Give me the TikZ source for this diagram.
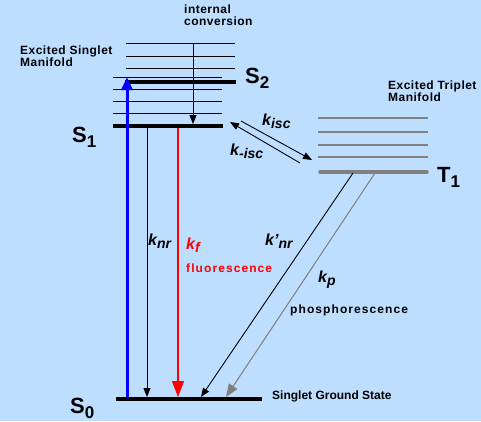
\documentclass[tikz,border=0pt]{standalone}
\usepackage{fontspec}
\setmainfont{Liberation Sans}
\newfontfamily\wideA[LetterSpace=4]{Liberation Sans}
\newfontfamily\wideB[LetterSpace=9]{Liberation Sans}
\usetikzlibrary{arrows.meta}
\definecolor{bg}{RGB}{190,222,255}
\definecolor{lvlgray}{RGB}{128,128,128}
\newcommand{\klab}[2]{{\fontsize{16}{16}\selectfont\bfseries\itshape #1\raisebox{-3.5pt}{\fontsize{14}{14}\selectfont #2}}}
\newcommand{\slab}[2]{{\fontsize{22}{22}\selectfont\bfseries #1\raisebox{-5pt}{\fontsize{17}{17}\selectfont #2}}}
\tikzset{
  small/.style={font=\fontsize{12}{12}\selectfont\bfseries, inner sep=0pt, align=left},
  smallA/.style={font=\wideA\fontsize{12}{12}\selectfont\bfseries, inner sep=0pt, align=left},
  smallB/.style={font=\wideB\fontsize{12}{12}\selectfont\bfseries, inner sep=0pt, align=left},
  lbl/.style={inner sep=0pt, anchor=base west},
  thick level/.style={line width=3.5pt},
  thin level/.style={line width=0.9pt},
  trip level/.style={line width=1.1pt, draw=lvlgray},
  arr/.style={line width=0.9pt, -{Triangle[length=9pt,width=7pt]}},
}
\begin{document}
\begin{tikzpicture}[x=1pt,y=-1pt]
\fill[bg] (0,0) rectangle (481,421);
\useasboundingbox (0,0) rectangle (481,421);

% singlet manifold
\foreach \yy in {43,56,68} \draw[thin level] (126,\yy) -- (235,\yy);
\foreach \yy in {77,89,101,113} \draw[thin level] (113,\yy) -- (222,\yy);
\draw[thick level] (125,82) -- (236,82);
\draw[thick level] (113,126) -- (223,126);
\draw[thick level] (116,399) -- (262,399);

% triplet manifold
\foreach \yy in {118,132,145,157} \draw[trip level] (318,\yy) -- (428,\yy);
\draw[thick level, draw=lvlgray, line cap=round] (320,172) -- (427,172);

% coordinates
\coordinate (bluebot) at (127,397);
\coordinate (bluetop) at (127,77);
\coordinate (nrtop) at (147,128);
\coordinate (nrbot) at (147,397);
\coordinate (ftop) at (178,128);
\coordinate (fbot) at (178,397);
\coordinate (ictop) at (193,43);
\coordinate (icbot) at (193,124);
\coordinate (isca0) at (300,163);
\coordinate (isca1) at (230,122);
\coordinate (iscb0) at (241,121);
\coordinate (iscb1) at (312,160);
\coordinate (tnr0) at (353,173);
\coordinate (tnr1) at (201,397);
\coordinate (tp0) at (375,173);
\coordinate (tp1) at (226,397);

% arrows
\draw[line width=3pt, blue, -{Triangle[length=13pt,width=11pt]}] (bluebot) -- (bluetop);
\draw[arr] (nrtop) -- (nrbot);
\draw[line width=1.1pt, red, -{Triangle[length=16pt,width=12pt]}] (ftop) -- (fbot);
\draw[arr] (ictop) -- (icbot);
\draw[arr] (isca0) -- (isca1);
\draw[arr] (iscb0) -- (iscb1);
\draw[arr] (tnr0) -- (tnr1);
\draw[line width=1pt, lvlgray, -{Triangle[length=13pt,width=10pt]}] (tp0) -- (tp1);

% texts
\node[smallA, anchor=north west] (ic) at (184,5) {internal\\conversion};
\node[smallA, anchor=north west] (esm) at (20,46) {Excited Singlet\\Manifold};
\node[smallA, anchor=north west] (etm) at (388,81) {Excited Triplet\\Manifold};
\node[small, lbl] (sgs) at (272,399) {Singlet Ground State};
\node[smallB, lbl] (phos) at (290,313) {phosphorescence};
\node[smallB, lbl, text=red] (fluo) at (186,272) {fluorescence};

\node[lbl] (s2) at (245,83) {\slab{S}{2}};
\node[lbl] (s1) at (72,142) {\slab{S}{1}};
\node[lbl] (s0) at (70,413) {\slab{S}{0}};
\node[lbl] (t1) at (437,182) {\slab{T}{1}};

\node[lbl] (knr) at (148,245) {\klab{k}{nr}};
\node[lbl, text=red] (kf) at (186,249) {\klab{k}{f}};
\node[lbl] (kpnr) at (265,245) {\klab{k'}{nr}};
\node[lbl] (kp) at (318,282) {\klab{k}{p}};
\node[lbl] (kisc) at (262,125) {\klab{k}{isc}};
\node[lbl] (kmisc) at (230,155) {\klab{k}{-isc}};
\end{tikzpicture}
\end{document}
